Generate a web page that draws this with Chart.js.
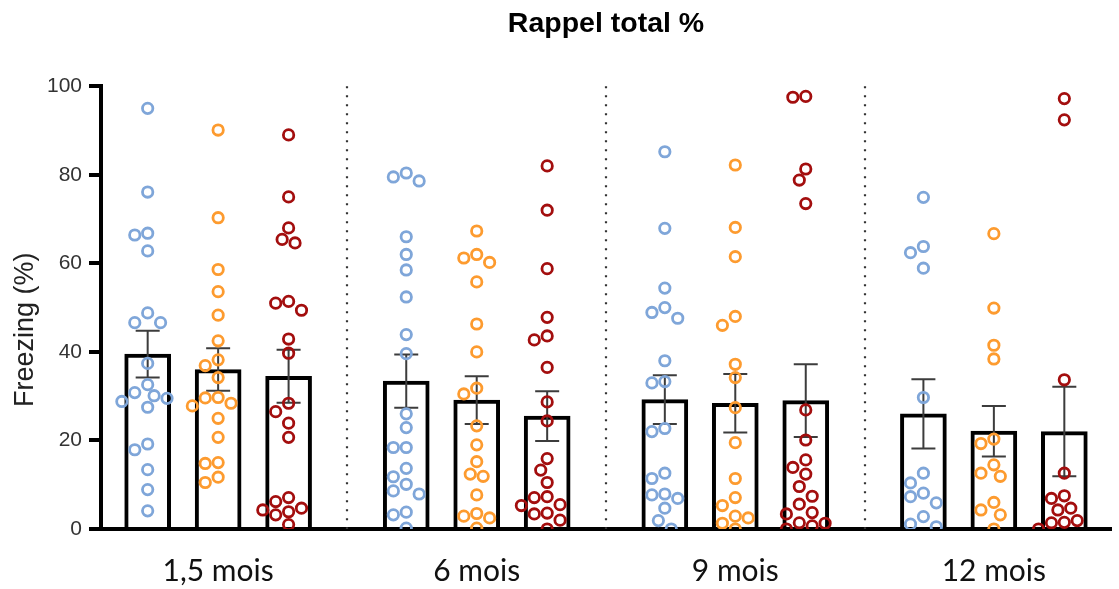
<!DOCTYPE html>
<html><head><meta charset="utf-8">
<script src="https://cdn.jsdelivr.net/npm/chart.js@4"></script>
<style>html,body{margin:0;padding:0;background:#fff}#wrap{width:1119px;height:589px;position:relative}</style>
</head><body><div id="wrap"><canvas id="c"></canvas></div>
<script>
// ---- data ----
const categories = ['1,5 mois', '6 mois', '9 mois', '12 mois'];
const chartTitle = 'Rappel total %';
const yTitle = 'Freezing (%)';
const yTicks = [0, 20, 40, 60, 80, 100];

const meanBlue   = [39.5, 33.4, 29.2, 26.0];
const semBlue    = [5.3, 6.0, 5.5, 7.8];
const meanOrange = [36.0, 29.1, 28.4, 22.1];
const semOrange  = [4.8, 5.4, 6.6, 5.7];
const meanRed    = [34.5, 25.5, 29.0, 22.0];
const semRed     = [6.0, 5.6, 8.2, 10.1];

const pointsBlue = [
  [95.0, 76.1, 66.8, 66.4, 62.8, 48.8, 46.6, 46.6, 37.4, 32.6, 30.8, 30.1, 29.5, 28.8, 27.5, 19.2, 17.9, 13.4, 8.9, 4.1],
  [80.4, 79.5, 78.6, 66.0, 62.0, 58.5, 52.4, 43.9, 39.6, 26.0, 22.9, 18.4, 18.4, 13.7, 11.8, 10.1, 8.6, 7.9, 3.8, 3.2, 0.2],
  [85.2, 67.9, 54.4, 50.0, 48.9, 47.6, 38.0, 33.3, 33.0, 22.7, 22.0, 12.6, 11.4, 7.9, 7.7, 6.9, 4.7, 1.9, 0.0],
  [74.9, 63.8, 62.4, 58.9, 29.7, 12.6, 10.4, 8.1, 7.3, 5.9, 2.8, 1.1, 0.5]
];
const pointsOrange = [
  [90.1, 70.3, 58.6, 53.6, 48.3, 42.5, 38.2, 36.9, 34.2, 29.7, 29.6, 28.4, 27.8, 25.0, 20.7, 15.0, 14.8, 11.7, 10.5],
  [67.3, 62.0, 61.2, 60.2, 55.8, 46.3, 40.0, 31.8, 30.5, 23.3, 19.0, 15.2, 12.4, 11.9, 7.7, 3.5, 2.9, 2.5, 0.2],
  [82.2, 68.1, 61.5, 48.0, 46.0, 37.2, 34.2, 27.4, 19.5, 11.4, 7.1, 5.3, 2.9, 2.5, 1.3, 0.0],
  [66.7, 49.9, 41.5, 38.4, 20.3, 19.3, 14.5, 12.6, 11.9, 6.0, 4.3, 3.2, 0.0]
];
const pointsRed = [
  [89.0, 75.0, 68.0, 65.4, 64.6, 51.4, 51.0, 49.4, 42.9, 39.7, 28.4, 26.5, 23.9, 20.7, 7.1, 6.2, 4.7, 4.3, 3.9, 3.2, 1.0],
  [82.0, 72.0, 58.8, 47.8, 43.6, 42.7, 36.5, 28.7, 24.4, 15.9, 13.3, 10.5, 7.3, 7.1, 5.5, 5.3, 3.6, 3.4, 2.0, 0.0],
  [97.7, 97.5, 81.3, 78.8, 73.5, 26.9, 20.1, 15.6, 13.9, 12.4, 9.6, 7.4, 5.6, 3.7, 3.4, 1.4, 1.3, 0.7, 0.0],
  [97.2, 92.4, 33.7, 12.6, 7.5, 6.9, 4.7, 4.3, 1.9, 1.5, 1.4, 0.0]
];

// ---- styles / layout ----
const colors = ['#7fa6d9', '#fd9b2f', '#a30e0e'];
const means = [meanBlue, meanOrange, meanRed];
const sems = [semBlue, semOrange, semRed];
const points = [pointsBlue, pointsOrange, pointsRed];
const SERIES_STEP = 0.2725;
const X_MIN = -0.453, X_MAX = 3.453;
const PX_X = 1018 / (X_MAX - X_MIN), PX_Y = 4.42, DIAM = 12.5, HALF = 6.5;

function swarm(values, center) {
  const placed = [], out = [];
  const order = values.map((v, i) => i).sort((a, b) => values[b] - values[a]);
  for (const i of order) {
    const v = values[i];
    let chosen = 0;
    for (let k = 0; k < 30; k++) {
      const off = (k === 0 ? 0 : (k % 2 ? -1 : 1) * Math.ceil(k / 2)) * HALF;
      if (placed.every(p => Math.hypot(p.o - off, (p.v - v) * PX_Y) >= DIAM)) { chosen = off; break; }
    }
    placed.push({ o: chosen, v });
    out.push({ x: center + chosen / PX_X, y: v });
  }
  return out;
}

const datasets = [];
for (let s = 0; s < 3; s++) {
  datasets.push({
    type: 'bar',
    data: categories.map((c, g) => ({ x: g + (s - 1) * SERIES_STEP, y: means[s][g] })),
    errors: sems[s],
    backgroundColor: '#ffffff', borderColor: '#000000', borderWidth: 4,
    barThickness: 46, grouped: false, order: 3
  });
}
for (let s = 0; s < 3; s++) {
  let all = [];
  categories.forEach((c, g) => { all = all.concat(swarm(points[s][g], g + (s - 1) * SERIES_STEP)); });
  datasets.push({
    type: 'scatter', data: all, order: 1,
    pointStyle: 'circle', pointRadius: 5.2, pointBorderWidth: 2.8,
    borderColor: colors[s], backgroundColor: 'rgba(255,255,255,0)', showLine: false
  });
}

const errorPlugin = {
  id: 'errbars',
  afterDatasetDraw(chart, args) {
    const ds = chart.data.datasets[args.index];
    if (!ds.errors) return;
    const ctx = chart.ctx, xs = chart.scales.x, ys = chart.scales.y;
    ctx.save();
    ctx.strokeStyle = '#3c3c3c'; ctx.lineWidth = 2;
    ds.data.forEach((d, i) => {
      const px = xs.getPixelForValue(d.x);
      const t = ys.getPixelForValue(d.y + ds.errors[i]);
      const b = ys.getPixelForValue(d.y - ds.errors[i]);
      ctx.beginPath();
      ctx.moveTo(px, t); ctx.lineTo(px, b);
      ctx.moveTo(px - 12, t); ctx.lineTo(px + 12, t);
      ctx.moveTo(px - 12, b); ctx.lineTo(px + 12, b);
      ctx.stroke();
    });
    ctx.restore();
  }
};
const sepPlugin = {
  id: 'separators',
  beforeDatasetsDraw(chart) {
    const ctx = chart.ctx, xs = chart.scales.x, ys = chart.scales.y;
    ctx.save();
    ctx.strokeStyle = '#333'; ctx.lineWidth = 2.2; ctx.setLineDash([2, 7]);
    for (let g = 0; g < categories.length - 1; g++) {
      const px = Math.round(xs.getPixelForValue(g + 0.5));
      ctx.beginPath();
      ctx.moveTo(px, ys.getPixelForValue(100));
      ctx.lineTo(px, ys.getPixelForValue(0));
      ctx.stroke();
    }
    ctx.restore();
  }
};
const yTitlePlugin = {
  id: 'ytitle',
  afterDraw(chart) {
    const ctx = chart.ctx, ys = chart.scales.y;
    ctx.save();
    ctx.translate(26, ys.getPixelForValue(45));
    ctx.rotate(-Math.PI / 2);
    ctx.fillStyle = '#222';
    ctx.font = '27px "Liberation Sans"';
    ctx.textAlign = 'center'; ctx.textBaseline = 'middle';
    ctx.fillText(yTitle, 0, 0);
    ctx.restore();
  }
};

new Chart(document.getElementById('c'), {
  type: 'bar',
  data: { datasets },
  plugins: [errorPlugin, sepPlugin, yTitlePlugin],
  options: {
    responsive: true, maintainAspectRatio: false, animation: false,
    layout: { padding: { left: 0, right: 0, top: 0, bottom: 0 } },
    plugins: {
      legend: { display: false }, tooltip: { enabled: false },
      title: { display: true, text: chartTitle, color: '#000', fullSize: false,
        font: { family: 'Liberation Sans', size: 28.5, weight: 'bold' },
        padding: { top: 7, bottom: 45 } }
    },
    scales: {
      x: {
        type: 'linear', min: X_MIN, max: X_MAX, offset: false,
        afterBuildTicks: sc => { sc.ticks = categories.map((c, i) => ({ value: i })); },
        afterFit: sc => { sc.height = 60; },
        ticks: { callback: v => categories[Math.round(v)], color: '#111', padding: 16,
          font: { family: 'Lato', size: 30 }, maxRotation: 0, autoSkip: false },
        grid: { display: false },
        border: { display: true, color: '#000', width: 4 }
      },
      y: {
        min: 0, max: 100,
        afterBuildTicks: sc => { sc.ticks = yTicks.map(v => ({ value: v })); },
        afterFit: sc => { sc.width = 101; },
        ticks: { color: '#333', padding: 7, font: { family: 'Liberation Sans', size: 21 } },
        grid: { display: true, drawOnChartArea: false, drawTicks: true, tickLength: 12, color: '#000', lineWidth: 4 },
        border: { display: true, color: '#000', width: 4 },
        title: { display: false }
      }
    }
  }
});
</script>
</body></html>
